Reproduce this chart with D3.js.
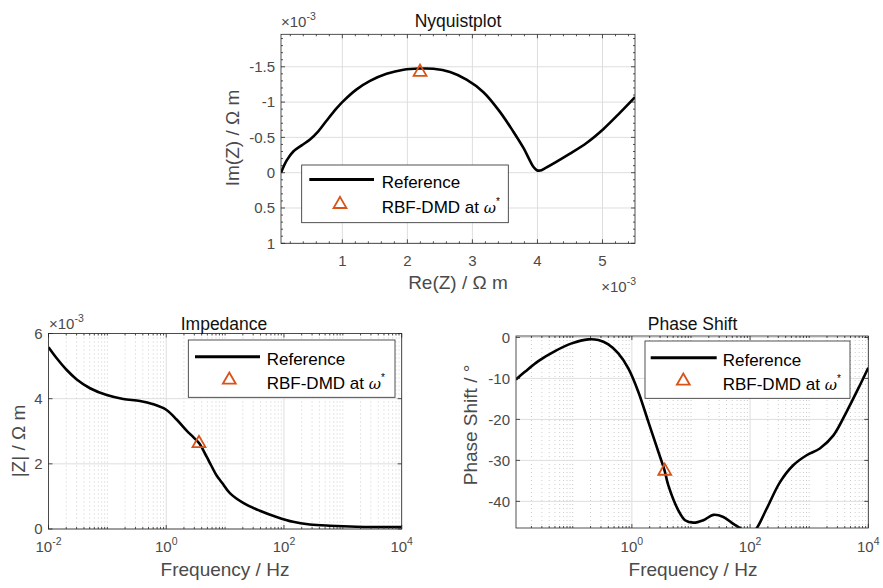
<!DOCTYPE html>
<html>
<head>
<meta charset="utf-8">
<script src="https://cdn.jsdelivr.net/npm/d3@7"></script>
<style>
body{margin:0;background:#fff}
svg{font-family:"Liberation Sans",Arial,sans-serif}
</style>
</head>
<body>
<svg id="fig" width="883" height="588"></svg>
<script>
// ---- data ----
// Nyquist, values in 1e-3 Ohm m
var nyqRe = [0.057,0.145,0.246,0.375,0.503,0.63,0.76,0.914,1.015,1.22,1.426,1.68,1.94,2.195,2.40,2.657,2.91,3.17,3.426,3.63,3.785,3.89,3.94,3.99,4.04,4.12,4.50,4.76,5.016,5.27,5.5];
var nyqIm = [0.0,-0.174,-0.30,-0.387,-0.47,-0.585,-0.74,-0.915,-1.014,-1.18,-1.30,-1.40,-1.459,-1.475,-1.472,-1.425,-1.317,-1.14,-0.858,-0.58,-0.35,-0.16,-0.08,-0.035,-0.03,-0.065,-0.27,-0.425,-0.62,-0.85,-1.07];
var nyqStar = [2.195, -1.425];
var nyqXTicks = [1,2,3,4,5];
var nyqYTicks = [-1.5,-1,-0.5,0,0.5,1];

// Impedance magnitude, 1e-3 Ohm m
var impFreq = [0.01,0.0138,0.0204,0.0302,0.0507,0.0977,0.186,0.358,0.603,1.0,1.50,2.22,2.88,3.63,4.85,5.62,7.18,8.87,12.05,20.3,38.9,74.8,143,275,603,1700,10000];
var impAbs  = [5.58,5.24,4.88,4.59,4.32,4.11,3.99,3.93,3.83,3.66,3.36,3.02,2.82,2.63,2.22,2.0,1.64,1.42,1.10,0.80,0.56,0.37,0.22,0.14,0.10,0.07,0.06];
var impStar = [3.6, 2.63];
var impYTicks = [0,2,4,6];

// Phase shift, degrees
var phFreq = [0.01096,0.01549,0.02612,0.0501,0.0959,0.1832,0.271,0.400,0.590,0.871,1.288,1.901,2.805,3.548,4.140,6.11,7.94,10.96,16.2,23.9,35.3,52.1,72.4,95.5,125.9,190.5,321,537,904,1514,2570,4266,7244,10000];
var phDeg  = [-10.25,-8.4,-5.77,-3.33,-1.45,-0.47,-0.64,-1.69,-3.9,-7.56,-13.3,-20.6,-27.9,-32.3,-36.1,-42.2,-44.6,-45.2,-44.6,-43.3,-43.8,-45.5,-46.8,-48.3,-46.8,-41.8,-35.3,-31.2,-28.75,-27.1,-23.9,-18.2,-11.6,-7.4];
var phStar = [3.6, -32.6];
var phYTicks = [0,-10,-20,-30,-40];

var logTicks = [1e-2,1e0,1e2,1e4];

// ---- helpers ----
var svg = d3.select("#fig");
var TXT = "#4a4a4a", AX = "#262626", ORANGE = "#D95319";

function logMinor(x){
	var d = x.domain(), out = [];
	for (var e = Math.floor(Math.log10(d[0])); e < Math.ceil(Math.log10(d[1])); e++){
		for (var k = 1; k < 10; k++){
			var v = k * Math.pow(10, e);
			if (v >= d[0] && v <= d[1] && !logTicks.includes(v)) out.push(v);
		}
	}
	return out;
}

function background(g, x, y, xMaj, xMin, yMaj, dotted){
	var L = x.range()[0], R = x.range()[1], B = y.range()[0], T = y.range()[1];
	g.append("rect").attr("x",L).attr("y",T).attr("width",R-L).attr("height",B-T).attr("fill","#fff");
	if (dotted){
		g.selectAll(".mg").data(xMin).enter().append("line")
			.attr("x1",d=>x(d)).attr("x2",d=>x(d)).attr("y1",T).attr("y2",B)
			.attr("stroke","#cdcdcd").attr("stroke-width",1).attr("stroke-dasharray","1,3");
	}
	g.selectAll(".gx").data(xMaj).enter().append("line")
		.attr("x1",d=>x(d)).attr("x2",d=>x(d)).attr("y1",T).attr("y2",B)
		.attr("stroke","#dedede").attr("stroke-width",1);
	g.selectAll(".gy").data(yMaj).enter().append("line")
		.attr("x1",L).attr("x2",R).attr("y1",d=>y(d)).attr("y2",d=>y(d))
		.attr("stroke","#dedede").attr("stroke-width",1);
}

function frame(g, x, y, xMaj, xMin, yMaj, yMin){
	var L = x.range()[0], R = x.range()[1], B = y.range()[0], T = y.range()[1];
	function vt(vals, len){
		vals.forEach(function(v){
			g.append("line").attr("x1",x(v)).attr("x2",x(v)).attr("y1",B).attr("y2",B-len).attr("stroke",AX).attr("stroke-width",0.8);
			g.append("line").attr("x1",x(v)).attr("x2",x(v)).attr("y1",T).attr("y2",T+len).attr("stroke",AX).attr("stroke-width",0.8);
		});
	}
	function ht(vals, len){
		vals.forEach(function(v){
			g.append("line").attr("y1",y(v)).attr("y2",y(v)).attr("x1",L).attr("x2",L+len).attr("stroke",AX).attr("stroke-width",0.8);
			g.append("line").attr("y1",y(v)).attr("y2",y(v)).attr("x1",R).attr("x2",R-len).attr("stroke",AX).attr("stroke-width",0.8);
		});
	}
	vt(xMaj,4); vt(xMin,2); ht(yMaj,4); ht(yMin,2);
	g.append("rect").attr("x",L).attr("y",T).attr("width",R-L).attr("height",B-T)
		.attr("fill","none").attr("stroke",AX).attr("stroke-width",0.8);
}

function curve(g, x, y, xs, ys, clipId){
	var L = x.range()[0], R = x.range()[1], B = y.range()[0], T = y.range()[1];
	g.append("clipPath").attr("id",clipId).append("rect")
		.attr("x",L).attr("y",T).attr("width",R-L).attr("height",B-T);
	var pts = xs.map((v,i)=>[v, ys[i]]);
	var line = d3.line().x(d=>x(d[0])).y(d=>y(d[1])).curve(d3.curveCatmullRom.alpha(0.5));
	g.append("path").attr("d",line(pts)).attr("fill","none").attr("stroke","#000")
		.attr("stroke-width",2.6).attr("stroke-linejoin","round").attr("clip-path","url(#"+clipId+")");
}

function tri(g, cx, cy){
	g.append("path").attr("d",d3.symbol().type(d3.symbolTriangle).size(72)())
		.attr("transform","translate("+cx+","+cy+")")
		.attr("fill","none").attr("stroke",ORANGE).attr("stroke-width",1.8);
}

function legend(g, bx, by, bw, bh, lx1, lx2, ly, tx, ty, textX){
	g.append("rect").attr("x",bx).attr("y",by).attr("width",bw).attr("height",bh)
		.attr("fill","#fff").attr("stroke",AX).attr("stroke-width",0.8);
	g.append("line").attr("x1",lx1).attr("x2",lx2).attr("y1",ly).attr("y2",ly)
		.attr("stroke","#000").attr("stroke-width",3);
	g.append("text").attr("x",textX).attr("y",ly+8.5).attr("font-size",17).attr("fill","#000").text("Reference");
	tri(g, tx, ty);
	var t = g.append("text").attr("x",textX).attr("y",ty+8.7).attr("font-size",17).attr("fill","#000");
	t.append("tspan").text("RBF-DMD at ");
	t.append("tspan").attr("font-style","italic").attr("font-family","DejaVu Serif").attr("font-size",15).text("\u03c9");
	t.append("tspan").attr("dy",-8).attr("font-size",10).text("*");
}

function expLabel(g, x, y, anchor){
	var t = g.append("text").attr("x",x).attr("y",y).attr("font-size",15).attr("fill",TXT).attr("text-anchor",anchor);
	t.append("tspan").text("\u00d710");
	t.append("tspan").attr("dy",-7).attr("font-size",10.5).text("-3");
}

function logLabels(g, x, vals, base){
	vals.forEach(function(v){
		if (v < x.domain()[0] || v > x.domain()[1]) return;
		var t = g.append("text").attr("x",x(v)).attr("y",base).attr("text-anchor","middle")
			.attr("font-size",15).attr("fill",TXT);
		t.append("tspan").text("10");
		t.append("tspan").attr("dy",-7).attr("font-size",10.5).text(Math.round(Math.log10(v)));
	});
}

function yLabels(g, x, y, vals){
	vals.forEach(function(v){
		g.append("text").attr("x",x.range()[0]-6).attr("y",y(v)).attr("dy","0.36em")
			.attr("text-anchor","end").attr("font-size",15).attr("fill",TXT).text(v);
	});
}

function vLabel(g, x, y, txt){
	g.append("text").attr("transform","translate("+x+","+y+") rotate(-90)")
		.attr("text-anchor","middle").attr("font-size",19).attr("fill",TXT).text(txt);
}

function title(g, x, y, txt){
	g.append("text").attr("x",x).attr("y",y).attr("text-anchor","middle")
		.attr("font-size",17.5).attr("fill","#111").text(txt);
}

// ---- Nyquist ----
(function(){
	var g = svg.append("g");
	var x = d3.scaleLinear().domain([0.057,5.5]).range([281,635]);
	var y = d3.scaleLinear().domain([1,-1.96]).range([243.3,34.3]);
	var xMin = d3.range(0.2,5.5,0.2).filter(v=>Math.abs(v-Math.round(v))>1e-6);
	var yMin = d3.range(-1.9,1,0.1).filter(v=>Math.abs(v*2-Math.round(v*2))>1e-6);
	background(g, x, y, nyqXTicks, [], nyqYTicks, false);
	curve(g, x, y, nyqRe, nyqIm, "clipNyq");
	tri(g, x(nyqStar[0]), y(nyqStar[1]));
	frame(g, x, y, nyqXTicks, xMin, nyqYTicks, yMin);
	nyqXTicks.forEach(function(v){
		g.append("text").attr("x",x(v)).attr("y",266).attr("text-anchor","middle")
			.attr("font-size",15).attr("fill",TXT).text(v);
	});
	yLabels(g, x, y, nyqYTicks);
	title(g, 458, 27, "Nyquistplot");
	expLabel(g, 281, 27, "start");
	expLabel(g, 636, 292, "end");
	g.append("text").attr("x",458).attr("y",289).attr("text-anchor","middle")
		.attr("font-size",19).attr("fill",TXT).text("Re(Z) / \u03a9 m");
	vLabel(g, 239, 138, "Im(Z) / \u03a9 m");
	legend(g, 301.7, 165, 206.6, 57.7, 309.3, 374, 179.5, 340, 204.3, 381.7);
})();

// ---- Impedance ----
(function(){
	var g = svg.append("g");
	var x = d3.scaleLog().domain([1e-2,1e4]).range([48.5,401.7]);
	var y = d3.scaleLinear().domain([0,6]).range([529,333.5]);
	var xMin = logMinor(x);
	background(g, x, y, logTicks, xMin, impYTicks, true);
	curve(g, x, y, impFreq, impAbs, "clipImp");
	tri(g, x(impStar[0]), y(impStar[1]));
	frame(g, x, y, logTicks, xMin, impYTicks, []);
	logLabels(g, x, logTicks, 552);
	yLabels(g, x, y, impYTicks);
	title(g, 224, 329.5, "Impedance");
	expLabel(g, 49, 329, "start");
	g.append("text").attr("x",225).attr("y",576).attr("text-anchor","middle")
		.attr("font-size",19).attr("fill",TXT).text("Frequency / Hz");
	vLabel(g, 25, 441, "|Z| / \u03a9 m");
	legend(g, 188.3, 340, 206.7, 57.3, 195, 260, 356.7, 229.3, 380, 266.7);
})();

// ---- Phase shift ----
(function(){
	var g = svg.append("g");
	var x = d3.scaleLog().domain([0.01096,1e4]).range([516,868.3]);
	var y = d3.scaleLinear().domain([-46.5,0.35]).range([528,336]);
	var xMin = logMinor(x);
	var xMaj = logTicks.filter(v=>v>=x.domain()[0]);
	background(g, x, y, xMaj, xMin, phYTicks, true);
	curve(g, x, y, phFreq, phDeg, "clipPh");
	tri(g, x(phStar[0]), y(phStar[1]));
	frame(g, x, y, xMaj, xMin, phYTicks, []);
	logLabels(g, x, logTicks, 552);
	yLabels(g, x, y, phYTicks);
	title(g, 692.5, 330, "Phase Shift");
	g.append("text").attr("x",693).attr("y",576).attr("text-anchor","middle")
		.attr("font-size",19).attr("fill",TXT).text("Frequency / Hz");
	vLabel(g, 477, 425, "Phase Shift / \u00b0");
	legend(g, 645, 341, 205, 57.3, 650.7, 716.7, 357.7, 683.3, 381, 722.7);
})();
</script>
</body>
</html>
